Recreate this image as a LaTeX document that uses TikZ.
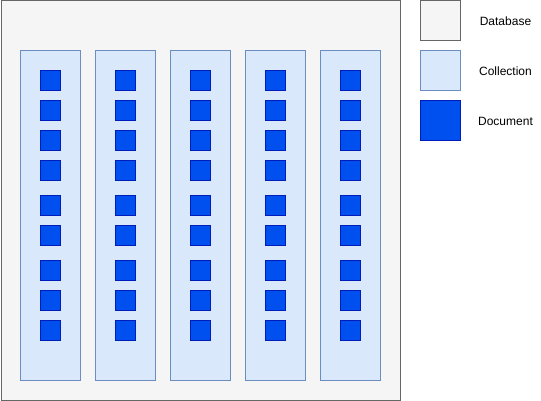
\documentclass[tikz,border=0pt]{standalone}
\usepackage{fontspec}
\setmainfont{Liberation Sans}
\usetikzlibrary{positioning}
\definecolor{dbfill}{HTML}{F5F5F5}
\definecolor{dbline}{HTML}{666666}
\definecolor{colfill}{HTML}{DAE8FC}
\definecolor{colline}{HTML}{6C8EBF}
\definecolor{docfill}{HTML}{0050EF}
\definecolor{docline}{HTML}{001DBC}
\tikzset{
  database/.style={draw=dbline, fill=dbfill, line width=1pt, inner sep=0pt},
  collection/.style={draw=colline, fill=colfill, line width=1pt, inner sep=0pt},
  document/.style={draw=docline, fill=docfill, line width=1pt, inner sep=0pt,
    minimum size=20pt},
  keytext/.style={font=\fontsize{12}{14}\selectfont}
}

\begin{document}
\begin{tikzpicture}[x=1pt, y=-1pt]
    \useasboundingbox (0,0) rectangle (541,401);

    % Database:
    \node[database, minimum width=399.5pt, minimum height=399.5pt, anchor=north west]
        (db) at (0.5,0.5) {};

    % Collections and their documents:
    \foreach \i in {0,...,4} {
        \node[collection, minimum width=60pt, minimum height=330pt, anchor=north west]
            (col\i) at ({20+75*\i},50) {};
        \foreach \y [count=\j] in {70,100,130,160,195,225,260,290,320}
            \node[document, anchor=north west] (doc\i-\j) at ({40+75*\i},\y) {};
    }

    % Legend:
    \node[database, minimum size=40pt, anchor=north west] (dbkey) at (420,0.5) {};
    \node[collection, minimum size=40pt, below=9pt of dbkey] (colkey) {};
    \node[document, minimum size=40pt, below=9pt of colkey] (dockey) {};
    \node[keytext] (dblabel) at ([xshift=65pt]dbkey.center) {Database};
    \node[keytext] (collabel) at ([xshift=65pt]colkey.center) {Collection};
    \node[keytext] (doclabel) at ([xshift=65pt]dockey.center) {Document};
\end{tikzpicture}
\end{document}
